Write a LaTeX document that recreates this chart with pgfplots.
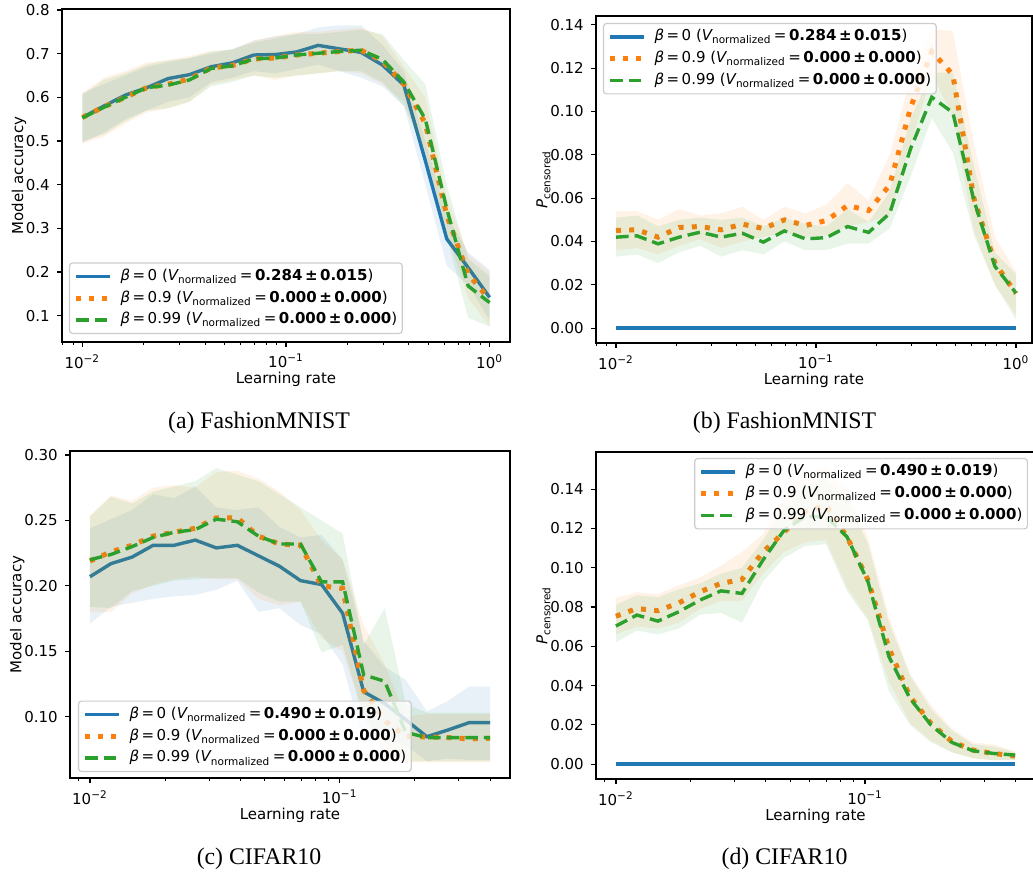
\documentclass[border=0pt]{standalone}
\usepackage{pgfplots}
\pgfplotsset{compat=1.18}
\usepackage{pgfplotstable}
\usepackage{fontspec}
\setmainfont{DejaVu Sans}
\newfontfamily\capfont{Liberation Serif}

\definecolor{tblue}{HTML}{1F77B4}
\definecolor{torange}{HTML}{FF7F0E}
\definecolor{tgreen}{HTML}{2CA02C}

\newcommand\fs{\fontsize{7.5}{9}\selectfont}
\newcommand\leg[2]{{\itshape β}\,=\,#1 ({\itshape V}\textsubscript{normalized}\,=\,\textbf{#2})}

% FashionMNIST, model accuracy
\pgfplotstableread{
x        b     bl    bu    o     ol    ou    g     gl    gu
0.010000 0.554 0.495 0.610 0.554 0.495 0.610 0.553 0.500 0.605
0.012743 0.580 0.520 0.630 0.578 0.510 0.645 0.577 0.515 0.640
0.016238 0.605 0.550 0.650 0.600 0.540 0.660 0.600 0.545 0.655
0.020691 0.622 0.570 0.670 0.622 0.565 0.680 0.622 0.570 0.675
0.026367 0.643 0.590 0.680 0.630 0.575 0.685 0.628 0.575 0.685
0.033598 0.652 0.600 0.690 0.642 0.590 0.695 0.640 0.590 0.690
0.042813 0.670 0.635 0.700 0.667 0.630 0.705 0.666 0.625 0.705
0.054556 0.679 0.645 0.710 0.673 0.640 0.710 0.672 0.635 0.710
0.069519 0.697 0.660 0.730 0.688 0.650 0.730 0.688 0.650 0.725
0.088587 0.698 0.655 0.740 0.690 0.640 0.740 0.690 0.645 0.735
0.112884 0.704 0.665 0.745 0.697 0.650 0.750 0.697 0.650 0.745
0.143845 0.719 0.675 0.760 0.701 0.655 0.750 0.701 0.655 0.745
0.183298 0.711 0.660 0.765 0.705 0.660 0.755 0.705 0.660 0.750
0.233572 0.703 0.645 0.765 0.708 0.655 0.760 0.708 0.660 0.755
0.297635 0.674 0.625 0.720 0.683 0.630 0.740 0.687 0.635 0.745
0.379269 0.628 0.580 0.660 0.630 0.590 0.670 0.635 0.580 0.685
0.483293 0.455 0.400 0.500 0.540 0.470 0.600 0.550 0.470 0.630
0.615848 0.276 0.215 0.330 0.330 0.290 0.370 0.345 0.280 0.400
0.784760 0.210 0.170 0.245 0.195 0.140 0.240 0.168 0.095 0.230
1.000000 0.142 0.090 0.205 0.137 0.075 0.200 0.130 0.075 0.190
}\tabA

% FashionMNIST, P censored
\pgfplotstableread{
x        b o      ol    ou    g      gl    gu
0.010000 0 0.0451 0.036 0.054 0.0420 0.033 0.051
0.012743 0 0.0454 0.037 0.054 0.0426 0.034 0.052
0.016238 0 0.0420 0.034 0.050 0.0389 0.030 0.047
0.020691 0 0.0465 0.038 0.055 0.0420 0.035 0.050
0.026367 0 0.0469 0.041 0.052 0.0443 0.038 0.051
0.033598 0 0.0454 0.037 0.053 0.0420 0.033 0.050
0.042813 0 0.0480 0.040 0.056 0.0438 0.036 0.051
0.054556 0 0.0460 0.042 0.050 0.0397 0.034 0.047
0.069519 0 0.0500 0.044 0.056 0.0449 0.040 0.051
0.088587 0 0.0474 0.042 0.053 0.0412 0.036 0.048
0.112884 0 0.0497 0.043 0.057 0.0418 0.036 0.047
0.143845 0 0.0566 0.047 0.067 0.0469 0.039 0.055
0.183298 0 0.0543 0.049 0.059 0.0442 0.039 0.049
0.233572 0 0.0660 0.052 0.080 0.0530 0.046 0.063
0.297635 0 0.1020 0.085 0.115 0.0830 0.070 0.097
0.379269 0 0.1277 0.117 0.138 0.1066 0.097 0.118
0.483293 0 0.1170 0.098 0.137 0.0995 0.081 0.118
0.615848 0 0.0600 0.045 0.085 0.0590 0.043 0.075
0.784760 0 0.0300 0.020 0.042 0.0285 0.020 0.035
1.000000 0 0.0160 0.006 0.026 0.0162 0.004 0.025
}\tabB

% CIFAR10, model accuracy
\pgfplotstableread{
x         b      bl    bu    o      ol    ou    g     gl    gu
0.0100000 0.207  0.171 0.244 0.219  0.180 0.254 0.220 0.184 0.253
0.0121428 0.217  0.184 0.251 0.226  0.180 0.269 0.224 0.183 0.268
0.0147448 0.222  0.187 0.258 0.231  0.194 0.265 0.230 0.196 0.263
0.0179043 0.231  0.190 0.270 0.238  0.201 0.275 0.237 0.200 0.272
0.0217408 0.231  0.192 0.267 0.241  0.205 0.277 0.241 0.204 0.276
0.0263994 0.235  0.193 0.276 0.244  0.207 0.275 0.243 0.205 0.280
0.0320564 0.229  0.197 0.260 0.252  0.205 0.287 0.251 0.206 0.290
0.0389254 0.231  0.204 0.258 0.252  0.205 0.288 0.249 0.206 0.285
0.0472663 0.223  0.180 0.260 0.238  0.190 0.282 0.238 0.195 0.280
0.0573945 0.215  0.183 0.245 0.232  0.185 0.272 0.232 0.188 0.270
0.0696930 0.204  0.170 0.237 0.231  0.188 0.258 0.232 0.188 0.260
0.0846273 0.201  0.163 0.239 0.200  0.160 0.235 0.203 0.149 0.250
0.1027610 0.179  0.140 0.220 0.198  0.150 0.220 0.203 0.155 0.240
0.1247810 0.119  0.080 0.158 0.120  0.100 0.170 0.132 0.100 0.155
0.1515190 0.110  0.083 0.138 0.097  0.070 0.140 0.127 0.080 0.183
0.1839880 0.0975 0.078 0.128 0.085  0.065 0.100 0.088 0.066 0.110
0.2234130 0.0847 0.066 0.104 0.0845 0.065 0.102 0.084 0.066 0.103
0.2712870 0.0898 0.068 0.112 0.084  0.065 0.102 0.084 0.066 0.103
0.3294180 0.0954 0.067 0.123 0.083  0.065 0.102 0.084 0.066 0.103
0.4000000 0.0954 0.067 0.123 0.0835 0.065 0.102 0.084 0.066 0.103
}\tabC

% CIFAR10, P censored
\pgfplotstableread{
x         b o      ol    ou     g      gl    gu
0.0100000 0 0.0753 0.066 0.0847 0.0703 0.062 0.081
0.0121428 0 0.0792 0.070 0.0875 0.0759 0.068 0.086
0.0147448 0 0.0781 0.069 0.0865 0.0728 0.066 0.085
0.0179043 0 0.0821 0.072 0.091  0.0776 0.069 0.089
0.0217408 0 0.0877 0.079 0.095  0.0835 0.076 0.092
0.0263994 0 0.0920 0.083 0.101  0.0882 0.077 0.097
0.0320564 0 0.0940 0.083 0.108  0.0869 0.072 0.100
0.0389254 0 0.1080 0.097 0.117  0.1039 0.093 0.114
0.0472663 0 0.1180 0.108 0.136  0.1190 0.105 0.130
0.0573945 0 0.1285 0.113 0.148  0.1260 0.111 0.142
0.0696930 0 0.1318 0.114 0.151  0.1260 0.112 0.145
0.0846273 0 0.1157 0.090 0.140  0.1157 0.088 0.135
0.1027610 0 0.0937 0.074 0.115  0.0928 0.073 0.112
0.1247810 0 0.0589 0.042 0.075  0.0546 0.037 0.072
0.1515190 0 0.0343 0.021 0.046  0.0334 0.020 0.045
0.1839880 0 0.0207 0.012 0.030  0.0199 0.011 0.028
0.2234130 0 0.0114 0.006 0.018  0.0110 0.006 0.017
0.2712870 0 0.0071 0.003 0.011  0.0068 0.003 0.010
0.3294180 0 0.0054 0.002 0.010  0.0054 0.002 0.009
0.4000000 0 0.0041 0.002 0.0065 0.0046 0.002 0.006
}\tabD

% append each table reversed, so that a band can be drawn as one polygon:
% upper edge forwards (rows 0-19), lower edge backwards (rows 20-39)
\pgfplotstablesort[sort key=x, sort cmp=float >]{\tabArev}{\tabA}\pgfplotstablevertcat{\tabA}{\tabArev}
\pgfplotstablesort[sort key=x, sort cmp=float >]{\tabBrev}{\tabB}\pgfplotstablevertcat{\tabB}{\tabBrev}
\pgfplotstablesort[sort key=x, sort cmp=float >]{\tabCrev}{\tabC}\pgfplotstablevertcat{\tabC}{\tabCrev}
\pgfplotstablesort[sort key=x, sort cmp=float >]{\tabDrev}{\tabD}\pgfplotstablevertcat{\tabD}{\tabDrev}

% line: style, table, column
\newcommand\mline[3]{\addplot[#1] table[x=x, y=#3, skip coords between index={20}{40}] {#2};}
% band: colour, table, lower col, upper col
\newcommand\band[4]{\addplot[fill=#1, fill opacity=0.1, draw=none, forget plot]
  table[x=x, y expr={\coordindex<20 ? \thisrow{#4} : \thisrow{#3}}] {#2};}

\pgfplotsset{
  mpl/.style={
    scale only axis,
    tick align=outside, tick pos=left,
    major tick length=2.6pt, minor tick length=1.5pt,
    every tick/.style={black, line width=0.6pt},
    every minor tick/.style={black, line width=0.45pt},
    axis line style={line width=0.6pt},
    tick label style={font=\fs},
    label style={font=\fs},
    xlabel style={yshift=5pt},
    ylabel style={yshift=-7pt},
    /pgf/number format/assume math mode=true,
    xlabel={Learning rate},
    legend cell align=left,
    legend style={font=\fs, draw=black!20, line width=0.6pt, rounded corners=1.5pt,
      fill=white, fill opacity=0.8, text opacity=1, draw opacity=1,
      inner xsep=2pt, inner ysep=2.5pt, row sep=2.5pt,
      nodes={inner sep=0.5pt, text height=5.6pt, text depth=1.8pt}},
    legend image code/.code={\draw[##1] (0pt,0pt) -- (17pt,0pt); \path (20.5pt,0pt);},
  },
  xa/.style={xtick={0.01,0.1,1}, xticklabels={10\textsuperscript{−2},10\textsuperscript{−1},10\textsuperscript{0}},
    minor xtick={0.008,0.009,0.02,0.03,0.04,0.05,0.06,0.07,0.08,0.09,0.2,0.3,0.4,0.5,0.6,0.7,0.8,0.9}},
  xc/.style={xtick={0.01,0.1}, xticklabels={10\textsuperscript{−2},10\textsuperscript{−1}},
    minor xtick={0.009,0.02,0.03,0.04,0.05,0.06,0.07,0.08,0.09,0.2,0.3,0.4},
    xmin=0.0083176, xmax=0.48083},
  lb/.style={tblue, line width=1.7pt},
  lo/.style={torange, line width=2.5pt, dash pattern=on 2.5pt off 4.1pt},
  lg/.style={tgreen, line width=1.7pt, dash pattern=on 6.3pt off 3pt},
  acc/.style={ytick={0.1,0.2,0.3,0.4,0.5,0.6,0.7,0.8}, ylabel={Model accuracy},
    yticklabel style={/pgf/number format/.cd, fixed, fixed zerofill, precision=1}},
  pc/.style={ytick={0,0.02,0.04,0.06,0.08,0.10,0.12,0.14},
    ylabel={{\itshape P}\textsubscript{censored}},
    yticklabel style={/pgf/number format/.cd, fixed, fixed zerofill, precision=2}},
}

\begin{document}
\begin{tikzpicture}
\useasboundingbox (0,0) rectangle (516.5pt,436.5pt);

% (a)
\begin{axis}[xmode=log, mpl, xa, acc, at={(31pt,265.5pt)}, anchor=south west,
  width=224pt, height=166.5pt, xmin=0.0079433, xmax=1.2589, ymin=0.0398, ymax=0.8023,
  legend style={at={(0.0156,0.024)}, anchor=south west}]
\mline{lb}{\tabA}{b} \addlegendentry{\leg{0}{0.284\,±\,0.015}}
\band{tblue}{\tabA}{bl}{bu}
\mline{lo}{\tabA}{o} \addlegendentry{\leg{0.9}{0.000\,±\,0.000}}
\band{torange}{\tabA}{ol}{ou}
\mline{lg}{\tabA}{g} \addlegendentry{\leg{0.99}{0.000\,±\,0.000}}
\band{tgreen}{\tabA}{gl}{gu}
\end{axis}

% (b)
\begin{axis}[xmode=log, mpl, xa, pc, at={(298pt,265pt)}, anchor=south west,
  width=218pt, height=163.5pt, xmin=0.0079433, xmax=1.2023, ymin=-0.00686, ymax=0.1441,
  legend style={at={(0.016,0.979)}, anchor=north west}]
\mline{lb}{\tabB}{b} \addlegendentry{\leg{0}{0.284\,±\,0.015}}
\mline{lo}{\tabB}{o} \addlegendentry{\leg{0.9}{0.000\,±\,0.000}}
\band{torange}{\tabB}{ol}{ou}
\mline{lg}{\tabB}{g} \addlegendentry{\leg{0.99}{0.000\,±\,0.000}}
\band{tgreen}{\tabB}{gl}{gu}
\end{axis}

% (c)
\begin{axis}[xmode=log, mpl, xc, at={(35pt,47.5pt)}, anchor=south west,
  width=220pt, height=163.5pt, ymin=0.0531, ymax=0.3031,
  ytick={0.10,0.15,0.20,0.25,0.30}, ylabel={Model accuracy},
  yticklabel style={/pgf/number format/.cd, fixed, fixed zerofill, precision=2},
  legend style={at={(0.018,0.018)}, anchor=south west}]
\mline{lb}{\tabC}{b} \addlegendentry{\leg{0}{0.490\,±\,0.019}}
\band{tblue}{\tabC}{bl}{bu}
\mline{lo}{\tabC}{o} \addlegendentry{\leg{0.9}{0.000\,±\,0.000}}
\band{torange}{\tabC}{ol}{ou}
\mline{lg}{\tabC}{g} \addlegendentry{\leg{0.99}{0.000\,±\,0.000}}
\band{tgreen}{\tabC}{gl}{gu}
\end{axis}

% (d)
\begin{axis}[xmode=log, mpl, xc, pc, at={(298pt,47pt)}, anchor=south west,
  width=219.5pt, height=163.5pt, ymin=-0.00757, ymax=0.1589,
  legend style={at={(0.984,0.982)}, anchor=north east}]
\mline{lb}{\tabD}{b} \addlegendentry{\leg{0}{0.490\,±\,0.019}}
\mline{lo}{\tabD}{o} \addlegendentry{\leg{0.9}{0.000\,±\,0.000}}
\band{torange}{\tabD}{ol}{ou}
\mline{lg}{\tabD}{g} \addlegendentry{\leg{0.99}{0.000\,±\,0.000}}
\band{tgreen}{\tabD}{gl}{gu}
\end{axis}

\begin{scope}[every node/.style={anchor=base, font=\capfont\fontsize{11.9}{14}\selectfont}]
\node at (129.5pt,222pt) {(a) FashionMNIST};
\node at (392.25pt,222pt) {(b) FashionMNIST};
\node at (129.5pt,4.5pt) {(c) CIFAR10};
\node at (392.25pt,4.5pt) {(d) CIFAR10};
\end{scope}
\end{tikzpicture}
\end{document}
